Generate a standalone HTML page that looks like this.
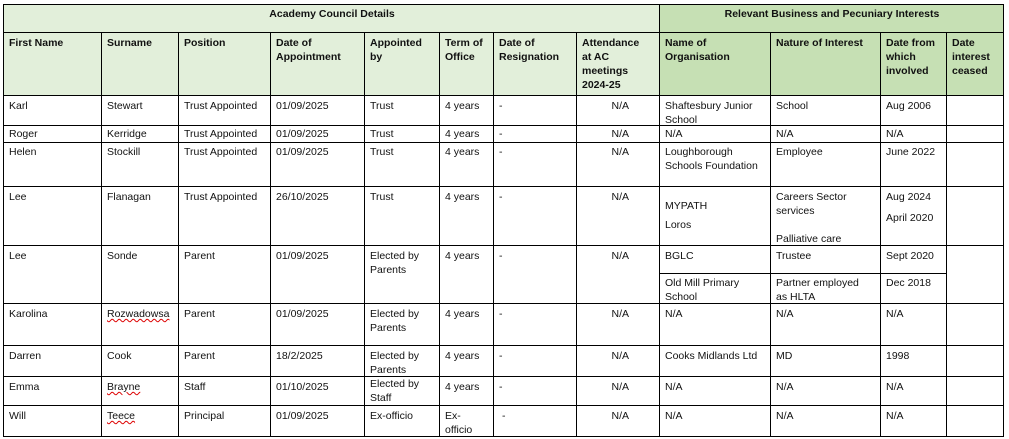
<!DOCTYPE html>
<html><head><meta charset="utf-8"><style>
body{margin:0;width:1009px;height:439px;background:#fff;position:relative;overflow:hidden;font-family:"Liberation Sans",Arial,sans-serif;font-size:10.5px;line-height:14px;color:#111}
.c{position:absolute;box-sizing:border-box;border:1px solid #000;padding:3px 4px 0 5px;overflow:hidden;white-space:nowrap}
.h{font-weight:bold;background:#e2efda}
.g{background:#c6e0b4}
.sq{text-decoration:underline wavy #d00;text-decoration-thickness:1px}
.r{text-align:right;padding-right:30px}
</style></head><body>
<div class="c h" style="left:3px;top:4px;width:657px;height:29px;text-align:center;padding-top:2px">Academy Council Details</div>
<div class="c h g" style="left:659px;top:4px;width:345px;height:29px;text-align:center;padding-top:2px">Relevant Business and Pecuniary Interests</div>

<div class="c h" style="left:3px;top:32px;width:99px;height:64px">First Name</div>
<div class="c h" style="left:101px;top:32px;width:78px;height:64px">Surname</div>
<div class="c h" style="left:178px;top:32px;width:93px;height:64px">Position</div>
<div class="c h" style="left:270px;top:32px;width:95px;height:64px">Date of<br>Appointment</div>
<div class="c h" style="left:364px;top:32px;width:76px;height:64px">Appointed<br>by</div>
<div class="c h" style="left:439px;top:32px;width:55px;height:64px">Term of<br>Office</div>
<div class="c h" style="left:493px;top:32px;width:84px;height:64px">Date of<br>Resignation</div>
<div class="c h" style="left:576px;top:32px;width:84px;height:64px">Attendance<br>at AC<br>meetings<br>2024-25</div>
<div class="c h g" style="left:659px;top:32px;width:112px;height:64px">Name of<br>Organisation</div>
<div class="c h g" style="left:770px;top:32px;width:111px;height:64px">Nature of Interest</div>
<div class="c h g" style="left:880px;top:32px;width:67px;height:64px">Date from<br>which<br>involved</div>
<div class="c h g" style="left:946px;top:32px;width:58px;height:64px">Date<br>interest<br>ceased</div>

<div class="c" style="left:3px;top:95px;width:99px;height:31px">Karl</div>
<div class="c" style="left:101px;top:95px;width:78px;height:31px">Stewart</div>
<div class="c" style="left:178px;top:95px;width:93px;height:31px">Trust Appointed</div>
<div class="c" style="left:270px;top:95px;width:95px;height:31px">01/09/2025</div>
<div class="c" style="left:364px;top:95px;width:76px;height:31px">Trust</div>
<div class="c" style="left:439px;top:95px;width:55px;height:31px">4 years</div>
<div class="c" style="left:493px;top:95px;width:84px;height:31px">-</div>
<div class="c r" style="left:576px;top:95px;width:84px;height:31px">N/A</div>
<div class="c" style="left:659px;top:95px;width:112px;height:31px">Shaftesbury Junior<br>School</div>
<div class="c" style="left:770px;top:95px;width:111px;height:31px">School</div>
<div class="c" style="left:880px;top:95px;width:67px;height:31px">Aug 2006</div>
<div class="c" style="left:946px;top:95px;width:58px;height:31px"></div>

<div class="c" style="left:3px;top:125px;width:99px;height:18px;padding-top:1px">Roger</div>
<div class="c" style="left:101px;top:125px;width:78px;height:18px;padding-top:1px">Kerridge</div>
<div class="c" style="left:178px;top:125px;width:93px;height:18px;padding-top:1px">Trust Appointed</div>
<div class="c" style="left:270px;top:125px;width:95px;height:18px;padding-top:1px">01/09/2025</div>
<div class="c" style="left:364px;top:125px;width:76px;height:18px;padding-top:1px">Trust</div>
<div class="c" style="left:439px;top:125px;width:55px;height:18px;padding-top:1px">4 years</div>
<div class="c" style="left:493px;top:125px;width:84px;height:18px;padding-top:1px">-</div>
<div class="c r" style="left:576px;top:125px;width:84px;height:18px;padding-top:1px">N/A</div>
<div class="c" style="left:659px;top:125px;width:112px;height:18px;padding-top:1px">N/A</div>
<div class="c" style="left:770px;top:125px;width:111px;height:18px;padding-top:1px">N/A</div>
<div class="c" style="left:880px;top:125px;width:67px;height:18px;padding-top:1px">N/A</div>
<div class="c" style="left:946px;top:125px;width:58px;height:18px"></div>

<div class="c" style="left:3px;top:142px;width:99px;height:45px;padding-top:2px">Helen</div>
<div class="c" style="left:101px;top:142px;width:78px;height:45px;padding-top:2px">Stockill</div>
<div class="c" style="left:178px;top:142px;width:93px;height:45px;padding-top:2px">Trust Appointed</div>
<div class="c" style="left:270px;top:142px;width:95px;height:45px;padding-top:2px">01/09/2025</div>
<div class="c" style="left:364px;top:142px;width:76px;height:45px;padding-top:2px">Trust</div>
<div class="c" style="left:439px;top:142px;width:55px;height:45px;padding-top:2px">4 years</div>
<div class="c" style="left:493px;top:142px;width:84px;height:45px;padding-top:2px">-</div>
<div class="c r" style="left:576px;top:142px;width:84px;height:45px;padding-top:2px">N/A</div>
<div class="c" style="left:659px;top:142px;width:112px;height:45px;padding-top:2px">Loughborough<br>Schools Foundation</div>
<div class="c" style="left:770px;top:142px;width:111px;height:45px;padding-top:2px">Employee</div>
<div class="c" style="left:880px;top:142px;width:67px;height:45px;padding-top:2px">June 2022</div>
<div class="c" style="left:946px;top:142px;width:58px;height:45px"></div>

<div class="c" style="left:3px;top:186px;width:99px;height:60px">Lee</div>
<div class="c" style="left:101px;top:186px;width:78px;height:60px">Flanagan</div>
<div class="c" style="left:178px;top:186px;width:93px;height:60px">Trust Appointed</div>
<div class="c" style="left:270px;top:186px;width:95px;height:60px">26/10/2025</div>
<div class="c" style="left:364px;top:186px;width:76px;height:60px">Trust</div>
<div class="c" style="left:439px;top:186px;width:55px;height:60px">4 years</div>
<div class="c" style="left:493px;top:186px;width:84px;height:60px">-</div>
<div class="c r" style="left:576px;top:186px;width:84px;height:60px">N/A</div>
<div class="c" style="left:659px;top:186px;width:112px;height:60px;padding-top:10px;line-height:19px">MYPATH<br>Loros</div>
<div class="c" style="left:770px;top:186px;width:111px;height:60px">Careers Sector<br>services<br><div style="margin-top:14px">Palliative care</div></div>
<div class="c" style="left:880px;top:186px;width:67px;height:60px;line-height:21px;padding-top:0">Aug 2024<br>April 2020</div>
<div class="c" style="left:946px;top:186px;width:58px;height:60px"></div>

<div class="c" style="left:3px;top:245px;width:99px;height:59px">Lee</div>
<div class="c" style="left:101px;top:245px;width:78px;height:59px">Sonde</div>
<div class="c" style="left:178px;top:245px;width:93px;height:59px">Parent</div>
<div class="c" style="left:270px;top:245px;width:95px;height:59px">01/09/2025</div>
<div class="c" style="left:364px;top:245px;width:76px;height:59px">Elected by<br>Parents</div>
<div class="c" style="left:439px;top:245px;width:55px;height:59px">4 years</div>
<div class="c" style="left:493px;top:245px;width:84px;height:59px">-</div>
<div class="c r" style="left:576px;top:245px;width:84px;height:59px">N/A</div>
<div class="c" style="left:659px;top:245px;width:112px;height:29px">BGLC</div>
<div class="c" style="left:770px;top:245px;width:111px;height:29px">Trustee</div>
<div class="c" style="left:880px;top:245px;width:67px;height:29px">Sept 2020</div>
<div class="c" style="left:659px;top:273px;width:112px;height:31px;padding-top:2px">Old Mill Primary<br>School</div>
<div class="c" style="left:770px;top:273px;width:111px;height:31px;padding-top:2px">Partner employed<br>as HLTA</div>
<div class="c" style="left:880px;top:273px;width:67px;height:31px;padding-top:2px">Dec 2018</div>
<div class="c" style="left:946px;top:245px;width:58px;height:59px"></div>

<div class="c" style="left:3px;top:303px;width:99px;height:43px">Karolina</div>
<div class="c" style="left:101px;top:303px;width:78px;height:43px"><span class="sq">Rozwadowsa</span></div>
<div class="c" style="left:178px;top:303px;width:93px;height:43px">Parent</div>
<div class="c" style="left:270px;top:303px;width:95px;height:43px">01/09/2025</div>
<div class="c" style="left:364px;top:303px;width:76px;height:43px">Elected by<br>Parents</div>
<div class="c" style="left:439px;top:303px;width:55px;height:43px">4 years</div>
<div class="c" style="left:493px;top:303px;width:84px;height:43px">-</div>
<div class="c r" style="left:576px;top:303px;width:84px;height:43px">N/A</div>
<div class="c" style="left:659px;top:303px;width:112px;height:43px">N/A</div>
<div class="c" style="left:770px;top:303px;width:111px;height:43px">N/A</div>
<div class="c" style="left:880px;top:303px;width:67px;height:43px">N/A</div>
<div class="c" style="left:946px;top:303px;width:58px;height:43px"></div>

<div class="c" style="left:3px;top:345px;width:99px;height:32px">Darren</div>
<div class="c" style="left:101px;top:345px;width:78px;height:32px">Cook</div>
<div class="c" style="left:178px;top:345px;width:93px;height:32px">Parent</div>
<div class="c" style="left:270px;top:345px;width:95px;height:32px">18/2/2025</div>
<div class="c" style="left:364px;top:345px;width:76px;height:32px">Elected by<br>Parents</div>
<div class="c" style="left:439px;top:345px;width:55px;height:32px">4 years</div>
<div class="c" style="left:493px;top:345px;width:84px;height:32px">-</div>
<div class="c r" style="left:576px;top:345px;width:84px;height:32px">N/A</div>
<div class="c" style="left:659px;top:345px;width:112px;height:32px">Cooks Midlands Ltd</div>
<div class="c" style="left:770px;top:345px;width:111px;height:32px">MD</div>
<div class="c" style="left:880px;top:345px;width:67px;height:32px">1998</div>
<div class="c" style="left:946px;top:345px;width:58px;height:32px"></div>

<div class="c" style="left:3px;top:376px;width:99px;height:30px">Emma</div>
<div class="c" style="left:101px;top:376px;width:78px;height:30px"><span class="sq">Brayne</span></div>
<div class="c" style="left:178px;top:376px;width:93px;height:30px">Staff</div>
<div class="c" style="left:270px;top:376px;width:95px;height:30px">01/10/2025</div>
<div class="c" style="left:364px;top:376px;width:76px;height:30px;padding-top:0">Elected by<br>Staff</div>
<div class="c" style="left:439px;top:376px;width:55px;height:30px">4 years</div>
<div class="c" style="left:493px;top:376px;width:84px;height:30px">-</div>
<div class="c r" style="left:576px;top:376px;width:84px;height:30px">N/A</div>
<div class="c" style="left:659px;top:376px;width:112px;height:30px">N/A</div>
<div class="c" style="left:770px;top:376px;width:111px;height:30px">N/A</div>
<div class="c" style="left:880px;top:376px;width:67px;height:30px">N/A</div>
<div class="c" style="left:946px;top:376px;width:58px;height:30px"></div>

<div class="c" style="left:3px;top:405px;width:99px;height:32px">Will</div>
<div class="c" style="left:101px;top:405px;width:78px;height:32px"><span class="sq">Teece</span></div>
<div class="c" style="left:178px;top:405px;width:93px;height:32px">Principal</div>
<div class="c" style="left:270px;top:405px;width:95px;height:32px">01/09/2025</div>
<div class="c" style="left:364px;top:405px;width:76px;height:32px">Ex-officio</div>
<div class="c" style="left:439px;top:405px;width:55px;height:32px">Ex-<br>officio</div>
<div class="c" style="left:493px;top:405px;width:84px;height:32px;padding-left:8px">-</div>
<div class="c r" style="left:576px;top:405px;width:84px;height:32px">N/A</div>
<div class="c" style="left:659px;top:405px;width:112px;height:32px">N/A</div>
<div class="c" style="left:770px;top:405px;width:111px;height:32px">N/A</div>
<div class="c" style="left:880px;top:405px;width:67px;height:32px">N/A</div>
<div class="c" style="left:946px;top:405px;width:58px;height:32px"></div>
</body></html>
